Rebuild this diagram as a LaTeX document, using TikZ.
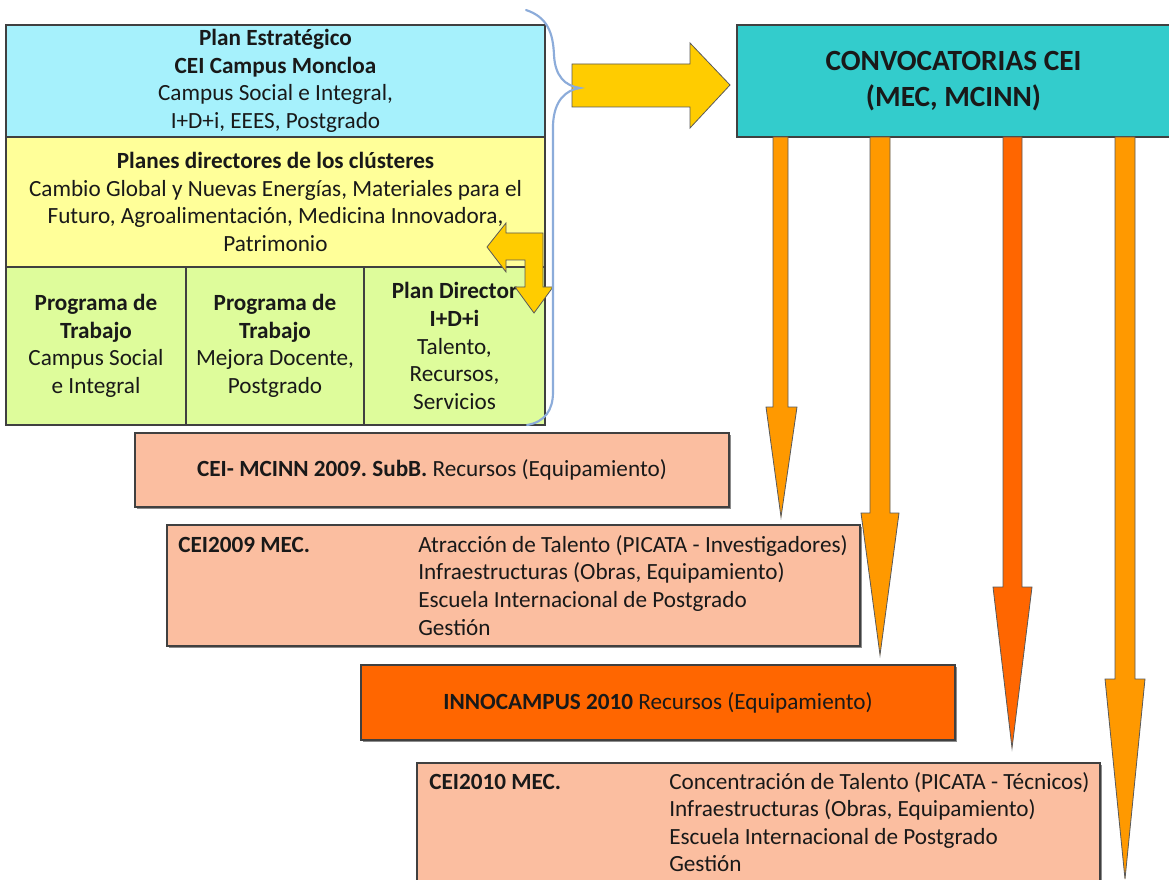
\documentclass[tikz,border=0pt]{standalone}
\usepackage{fontspec}
\setmainfont{Carlito}
\usetikzlibrary{shadows}
\definecolor{cBlue}{RGB}{166,241,252}
\definecolor{cYellow}{RGB}{255,255,153}
\definecolor{cGreen}{RGB}{222,252,155}
\definecolor{cTeal}{RGB}{51,204,204}
\definecolor{cSalmon}{RGB}{251,190,160}
\definecolor{cInno}{RGB}{255,102,0}
\definecolor{cOrange}{RGB}{255,153,0}
\definecolor{cGold}{RGB}{255,204,0}
\definecolor{cBrace}{RGB}{140,172,218}
\definecolor{cBorder}{RGB}{64,64,64}
\newcommand{\myBody}{\fontsize{17.4}{20.7}\selectfont}
\newcommand{\myBig}{\fontsize{22}{27}\selectfont\bfseries}
\frenchspacing
\begin{document}
\begin{tikzpicture}[x=0.75pt,y=-0.75pt,
  box/.style={draw=cBorder, line width=0.9pt, inner sep=0pt, align=center,
    font=\myBody, text=black!90},
  shbox/.style={box, drop shadow={shadow xshift=1.2pt, shadow yshift=-1.2pt, opacity=0.45, fill=black}},
  txt/.style={inner sep=0pt, font=\myBody, text=black!90, anchor=base west},
  blockarrow/.style={draw=black!65, line width=0.6pt, line join=miter},
]
\useasboundingbox (0,0) rectangle (1169,880);
\fill[white] (0,0) rectangle (1169,880);

% ---- left composite box
\node[box, fill=cBlue, minimum width=404.25pt, minimum height=84pt] (plan) at (275.5,81)
  {\textbf{Plan Estratégico}\\\textbf{CEI Campus Moncloa}\\Campus Social e Integral,\\I+D+i, EEES, Postgrado};
\node[box, fill=cYellow, minimum width=404.25pt, minimum height=97.5pt] (clusters) at (275.5,202)
  {\textbf{Planes directores de los clústeres}\\Cambio Global y Nuevas Energías, Materiales para el\\Futuro, Agroalimentación, Medicina Innovadora,\\Patrimonio};
\node[box, fill=cGreen, minimum width=135pt, minimum height=118.5pt] (prog1) at (96,346)
  {\textbf{Programa de}\\\textbf{Trabajo}\\Campus Social\\e Integral};
\node[box, fill=cGreen, minimum width=133.5pt, minimum height=118.5pt] (prog2) at (275,346)
  {\textbf{Programa de}\\\textbf{Trabajo}\\Mejora Docente,\\Postgrado};
\node[box, fill=cGreen, minimum width=135.75pt, minimum height=118.5pt] (prog3) at (454.5,346)
  {\textbf{Plan Director}\\\textbf{I+D+i}\\Talento,\\Recursos,\\Servicios};

% ---- convocatorias box
\node[box, fill=cTeal, minimum width=324.75pt, minimum height=84pt, font=\myBig] (conv) at (953.5,81)
  {CONVOCATORIAS CEI\\(MEC, MCINN)};

% ---- lower boxes
\node[shbox, fill=cSalmon, minimum width=445.5pt, minimum height=55.5pt] (mcinn) at (432,470)
  {\textbf{CEI- MCINN 2009. SubB.} Recursos (Equipamiento)};
\node[shbox, fill=cSalmon, minimum width=519.75pt, minimum height=90.75pt] (mec09) at (513.5,585.5) {};
\node[txt] (mec09t) at (178,552) {\textbf{CEI2009 MEC.}};
\node[txt] (mec09a) at (418,552) {Atracción de Talento (PICATA - Investigadores)};
\node[txt] (mec09b) at (418,579.7) {Infraestructuras (Obras, Equipamiento)};
\node[txt] (mec09c) at (418,607.3) {Escuela Internacional de Postgrado};
\node[txt] (mec09d) at (418,635) {Gestión};

\node[shbox, fill=cInno, minimum width=445.5pt, minimum height=56.25pt] (inno) at (658,702.5)
  {\textbf{INNOCAMPUS 2010} Recursos (Equipamiento)};

\node[shbox, fill=cSalmon, minimum width=512.25pt, minimum height=102.75pt] (mec10) at (758.5,831.5) {};
\node[txt] (mec10t) at (429,789) {\textbf{CEI2010 MEC.}};
\node[txt] (mec10a) at (669,789) {Concentración de Talento (PICATA - Técnicos)};
\node[txt] (mec10b) at (669,816.5) {Infraestructuras (Obras, Equipamiento)};
\node[txt] (mec10c) at (669,844) {Escuela Internacional de Postgrado};
\node[txt] (mec10d) at (669,871.5) {Gestión};

% ---- down arrows from convocatorias
\filldraw[blockarrow, fill=cOrange] (773,137) -- (773,407) -- (766,407) -- (781,517) -- (797,407) -- (788,407) -- (788,137) -- cycle;
\filldraw[blockarrow, fill=cOrange] (870,137) -- (870,513) -- (861,513) -- (880,655) -- (899,513) -- (890,513) -- (890,137) -- cycle;
\filldraw[blockarrow, fill=cInno] (1003,137) -- (1003,587) -- (993,587) -- (1012,748) -- (1032,587) -- (1022,587) -- (1022,137) -- cycle;
\filldraw[blockarrow, fill=cOrange] (1115,137) -- (1115,679) -- (1105,679) -- (1125,879) -- (1145,679) -- (1135,679) -- (1135,137) -- cycle;

% ---- right arrow to convocatorias
\filldraw[blockarrow, fill=cGold] (572,64) -- (690,64) -- (690,43) -- (730,85) -- (690,128) -- (690,107) -- (572,107) -- cycle;

% ---- bent arrow
\filldraw[blockarrow, fill=cGold] (487,247) -- (506,223) -- (506,233) -- (543,233) -- (543,287) -- (553,287) -- (534,313) -- (515,287) -- (525,287) -- (525,260) -- (506,260) -- (506,272) -- cycle;

% ---- brace
\draw[cBrace, line width=1.6pt, line cap=round]
  (526,10) .. controls (547,17) and (553,32) .. (554,55)
  .. controls (555,76) and (565,86) .. (580,88)
  .. controls (566,90) and (554,100) .. (553,125)
  -- (553,392) .. controls (553,410) and (545,422) .. (527,425);
\end{tikzpicture}
\end{document}
